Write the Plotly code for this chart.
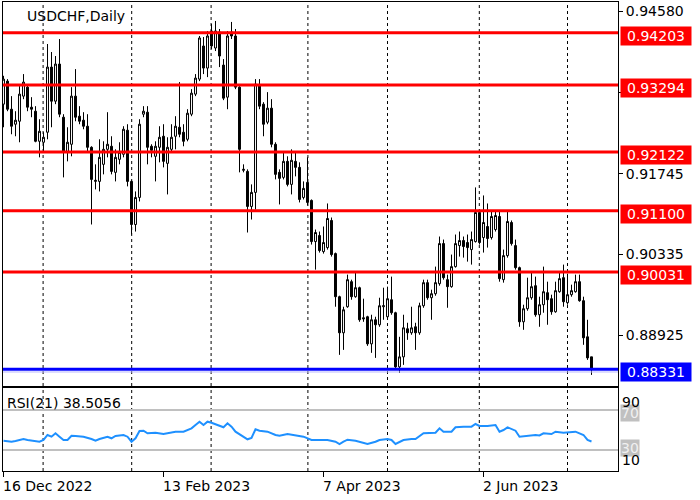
import plotly.graph_objects as go

# ---------------- data ----------------
bar_index = list(range(148))
date_ticks = [0, 40, 80, 120]
date_labels = ["16 Dec 2022", "13 Feb 2023", "7 Apr 2023", "2 Jun 2023"]
month_grid = [9.9, 32.05, 51.9, 76.1, 96, 118.95, 141]

opens = [0.92958, 0.93360, 0.92870, 0.92608, 0.92660, 0.93098, 0.93255, 0.92905, 0.92835, 0.92310,
         0.92293, 0.92468, 0.93605, 0.93010, 0.93658, 0.92730, 0.92118, 0.92258, 0.93098, 0.92748,
         0.92678, 0.92573, 0.92205, 0.91610, 0.91610, 0.91908, 0.92170, 0.92223, 0.91768, 0.91995,
         0.92083, 0.92503, 0.91610, 0.90858, 0.91330, 0.92783, 0.92818, 0.92223, 0.92048, 0.92205,
         0.92398, 0.91925, 0.92170, 0.92398, 0.92555, 0.92468, 0.92345, 0.92783, 0.93133, 0.93395,
         0.93973, 0.93588, 0.94235, 0.93938, 0.94218, 0.93640, 0.93080, 0.94218, 0.94148, 0.93255,
         0.91803, 0.91785, 0.91173, 0.91418, 0.93290, 0.92958, 0.92643, 0.92888, 0.92258, 0.91768,
         0.91680, 0.91960, 0.91558, 0.91960, 0.91855, 0.91330, 0.91593, 0.91278, 0.90560, 0.90665,
         0.90385, 0.90455, 0.90928, 0.90350, 0.89598, 0.88968, 0.89423, 0.89860, 0.89598, 0.89755,
         0.89230, 0.89248, 0.88775, 0.89195, 0.89108, 0.89423, 0.89248, 0.89545, 0.89318, 0.88373,
         0.88548, 0.89038, 0.88968, 0.89073, 0.88968, 0.89440, 0.89843, 0.89580, 0.89650, 0.89825,
         0.90525, 0.89895, 0.89773, 0.90123, 0.90490, 0.90578, 0.90543, 0.90420, 0.90560, 0.91068,
         0.90630, 0.90823, 0.90630, 0.90770, 0.90998, 0.89895, 0.90315, 0.90893, 0.90490, 0.90105,
         0.89160, 0.89388, 0.89580, 0.89790, 0.89283, 0.89458, 0.89668, 0.89563, 0.89335, 0.89685,
         0.89930, 0.89493, 0.89633, 0.89685, 0.89860, 0.89528, 0.88898, 0.88548]

highs = [0.93453, 0.93395, 0.93098, 0.92835, 0.93273, 0.93483, 0.93308, 0.93080, 0.92923, 0.92695,
         0.92468, 0.94008, 0.93868, 0.93798, 0.94095, 0.92783, 0.92555, 0.93255, 0.93570, 0.92923,
         0.92818, 0.92783, 0.92223, 0.91908, 0.92345, 0.92310, 0.92818, 0.92398, 0.92170, 0.92293,
         0.92573, 0.92608, 0.91628, 0.91435, 0.92695, 0.92923, 0.92923, 0.92258, 0.92310, 0.92573,
         0.92608, 0.92380, 0.92608, 0.92748, 0.93343, 0.92608, 0.92870, 0.93220, 0.93483, 0.94148,
         0.94130, 0.94235, 0.94358, 0.94410, 0.94270, 0.93745, 0.94235, 0.94393, 0.94270, 0.93273,
         0.91908, 0.91820, 0.91558, 0.93395, 0.93395, 0.92993, 0.93168, 0.93045, 0.92293, 0.91820,
         0.92118, 0.92048, 0.92170, 0.92118, 0.91943, 0.91610, 0.92030, 0.91295, 0.90770, 0.90735,
         0.90823, 0.91225, 0.90980, 0.90368, 0.89615, 0.89423, 0.89983, 0.89895, 0.90018, 0.89773,
         0.89563, 0.89265, 0.89283, 0.89248, 0.89580, 0.89755, 0.89773, 0.89948, 0.89335, 0.88898,
         0.89283, 0.89143, 0.89423, 0.89143, 0.89493, 0.89895, 0.89895, 0.89720, 0.90123, 0.90648,
         0.90595, 0.89983, 0.90333, 0.90683, 0.90735, 0.90648, 0.90683, 0.90735, 0.91505, 0.91120,
         0.91365, 0.91225, 0.91085, 0.91085, 0.91085, 0.90420, 0.91085, 0.90928, 0.90595, 0.90123,
         0.89458, 0.89930, 0.90018, 0.89948, 0.89598, 0.90123, 0.89860, 0.89633, 0.89860, 0.90018,
         0.90158, 0.90000, 0.89808, 0.89983, 0.89983, 0.89598, 0.89195, 0.88548]

lows = [0.92555, 0.92835, 0.92433, 0.92398, 0.92293, 0.93045, 0.92835, 0.92730, 0.92293, 0.92030,
        0.92135, 0.92345, 0.92555, 0.92958, 0.92730, 0.91680, 0.91960, 0.92048, 0.92660, 0.92608,
        0.92520, 0.92135, 0.90858, 0.91470, 0.91435, 0.91733, 0.92030, 0.91733, 0.91610, 0.91908,
        0.92030, 0.91523, 0.90683, 0.90735, 0.91260, 0.92730, 0.91908, 0.92030, 0.91610, 0.91943,
        0.91855, 0.91383, 0.92135, 0.92170, 0.92380, 0.92223, 0.92310, 0.92748, 0.93098, 0.93360,
        0.93483, 0.93430, 0.93920, 0.93885, 0.93605, 0.93028, 0.92870, 0.94095, 0.93220, 0.91768,
        0.91768, 0.90718, 0.90945, 0.91120, 0.92870, 0.92398, 0.92608, 0.92205, 0.91645, 0.91208,
        0.91645, 0.91523, 0.91383, 0.91698, 0.91243, 0.91295, 0.91190, 0.90508, 0.90070, 0.90368,
        0.90350, 0.90420, 0.90298, 0.89423, 0.88583, 0.88670, 0.89405, 0.89545, 0.89580, 0.89160,
        0.89160, 0.88740, 0.88618, 0.88530, 0.89073, 0.89195, 0.89195, 0.89283, 0.88355, 0.88268,
        0.88408, 0.88845, 0.88933, 0.88670, 0.88933, 0.89405, 0.89545, 0.89195, 0.89615, 0.89790,
        0.89895, 0.89405, 0.89755, 0.90105, 0.90298, 0.90280, 0.90210, 0.90158, 0.90543, 0.90508,
        0.90368, 0.90455, 0.90595, 0.90735, 0.89860, 0.89843, 0.90280, 0.90490, 0.90070, 0.89073,
        0.89020, 0.89353, 0.89545, 0.89248, 0.89073, 0.89318, 0.89108, 0.89283, 0.89318, 0.89668,
        0.89423, 0.89458, 0.89598, 0.89668, 0.89510, 0.88758, 0.88495, 0.88233]

closes = [0.93395, 0.92870, 0.92573, 0.92678, 0.93133, 0.93343, 0.92905, 0.92870, 0.92310, 0.92485,
          0.92380, 0.93605, 0.93010, 0.93658, 0.92783, 0.92135, 0.92293, 0.93098, 0.92730, 0.92660,
          0.92573, 0.92205, 0.91645, 0.91628, 0.92030, 0.92170, 0.92258, 0.91785, 0.92030, 0.92118,
          0.92520, 0.91610, 0.90858, 0.91330, 0.92608, 0.92835, 0.92205, 0.92153, 0.92223, 0.92380,
          0.91960, 0.92205, 0.92380, 0.92573, 0.92433, 0.92310, 0.92800, 0.93150, 0.93413, 0.94113,
          0.93588, 0.94148, 0.93973, 0.94235, 0.93798, 0.93063, 0.94148, 0.94148, 0.93255, 0.92170,
          0.91820, 0.91173, 0.91418, 0.93308, 0.92923, 0.92608, 0.92888, 0.92258, 0.91733, 0.91663,
          0.91960, 0.91558, 0.91978, 0.91855, 0.91295, 0.91488, 0.91243, 0.90560, 0.90718, 0.90403,
          0.90543, 0.90963, 0.90333, 0.89598, 0.88968, 0.89370, 0.89895, 0.89598, 0.89755, 0.89195,
          0.89213, 0.88775, 0.89195, 0.89108, 0.89440, 0.89440, 0.89563, 0.89318, 0.88373, 0.88548,
          0.89055, 0.88968, 0.89055, 0.88968, 0.89440, 0.89843, 0.89580, 0.89650, 0.89843, 0.90525,
          0.89930, 0.89773, 0.90123, 0.90525, 0.90578, 0.90473, 0.90455, 0.90595, 0.91068, 0.90543,
          0.90893, 0.90613, 0.90998, 0.91015, 0.89913, 0.90315, 0.90910, 0.90525, 0.90105, 0.89160,
          0.89388, 0.89580, 0.89773, 0.89283, 0.89458, 0.89685, 0.89545, 0.89335, 0.89703, 0.89913,
          0.89510, 0.89633, 0.89703, 0.89860, 0.89528, 0.88880, 0.88530, 0.88331]

rsi_bar = [0, 2, 3, 5, 6, 8, 9, 10, 11, 12, 13, 14, 15, 16, 17, 18, 20, 22, 23, 24,
           26, 27, 28, 30, 31, 32, 33, 34, 35, 36, 38, 40, 42, 43, 45, 47, 48, 49, 50, 51,
           52, 53, 55, 56, 57, 58, 60, 61, 62, 63, 64, 66, 68, 69, 71, 73, 74, 75, 77, 78,
           80, 81, 83, 84, 85, 86, 88, 91, 93, 94, 96, 97, 98, 100, 102, 103, 105, 107, 108, 109,
           110, 112, 113, 115, 117, 118, 119, 121, 123, 124, 125, 126, 128, 129, 131, 133, 134, 135, 137, 138,
           140, 142, 143, 145, 146, 147]
rsi_vals = [39.3, 38.3, 39.0, 41.0, 40.0, 39.0, 38.3, 40.0, 45.0, 43.3, 46.7, 43.3, 40.0, 40.0, 44.3, 44.0, 43.3, 41.0, 39.3, 41.0,
            43.3, 41.7, 44.0, 45.0, 43.3, 38.3, 41.7, 49.0, 49.3, 46.7, 47.3, 46.0, 47.7, 48.3, 48.3, 51.7, 55.0, 58.3, 55.0, 58.3,
            57.3, 55.7, 52.7, 56.7, 53.3, 48.3, 43.3, 40.7, 42.0, 50.7, 49.3, 48.3, 45.0, 44.3, 46.0, 44.3, 44.0, 43.3, 40.0, 40.0,
            40.7, 40.0, 38.3, 36.0, 38.3, 40.3, 39.3, 36.0, 38.3, 40.0, 41.0, 40.0, 36.0, 40.0, 41.0, 41.0, 46.7, 47.3, 47.3, 51.7,
            48.3, 48.3, 52.7, 53.3, 53.3, 56.0, 54.0, 54.0, 55.0, 48.3, 50.0, 52.7, 49.3, 43.3, 44.0, 45.0, 44.5, 46.7, 46.0, 48.3,
            47.3, 48.3, 48.3, 45.0, 40.0, 38.5]

red_levels = [0.94203, 0.93294, 0.92122, 0.91100, 0.90031]
blue_level = 0.88331
bid_level = 0.88284
price_ticks = [0.94580, 0.93163, 0.91745, 0.90335, 0.88925]
price_tick_text = ["0.94580", "0.93163", "0.91745", "0.90335", "0.88925"]
rsi_levels = [70, 30]
rsi_scale_labels = [90, 10]
symbol_title = "USDCHF,Daily"
rsi_title = "RSI(21) 38.5056"

# ---------------- figure ----------------
FONT = "DejaVu Sans"
fig = go.Figure()

fig.add_trace(go.Candlestick(
    x=bar_index, open=opens, high=highs, low=lows, close=closes,
    xaxis="x", yaxis="y",
    increasing=dict(line=dict(color="black", width=1), fillcolor="white"),
    decreasing=dict(line=dict(color="black", width=1), fillcolor="black"),
    whiskerwidth=0, showlegend=False, hoverinfo="skip"))

fig.add_trace(go.Scatter(
    x=rsi_bar, y=rsi_vals, xaxis="x2", yaxis="y2", mode="lines",
    line=dict(color="#1e90ff", width=2), showlegend=False, hoverinfo="skip"))

shapes = []
for g in month_grid:
    for xr_, yr_ in (("x", "y domain"), ("x2", "y2 domain")):
        shapes.append(dict(type="line", xref=xr_, yref=yr_, x0=g, x1=g, y0=0, y1=1,
                           line=dict(color="black", width=1, dash="3px,3px"), layer="below"))
for lv in red_levels:
    shapes.append(dict(type="line", xref="x domain", yref="y", x0=0, x1=1, y0=lv, y1=lv,
                       line=dict(color="#ff0000", width=3)))
shapes.append(dict(type="line", xref="x domain", yref="y", x0=0, x1=1, y0=bid_level, y1=bid_level,
                   line=dict(color="#b8b8ff", width=1)))
shapes.append(dict(type="line", xref="x domain", yref="y", x0=0, x1=1, y0=blue_level, y1=blue_level,
                   line=dict(color="#0000ff", width=3)))
for lv in rsi_levels:
    shapes.append(dict(type="line", xref="x2 domain", yref="y2", x0=0, x1=1, y0=lv, y1=lv,
                       line=dict(color="#c0c0c0", width=2), layer="below"))

ann = []
for lv in red_levels:
    ann.append(dict(xref="paper", x=1, xanchor="left", xshift=2, yref="y", y=lv, yanchor="middle",
                    yshift=-3, text=f"{lv:.5f}", showarrow=False, bgcolor="#ff0000",
                    font=dict(family=FONT, size=14, color="white"), borderpad=1, width=68))
ann.append(dict(xref="paper", x=1, xanchor="left", xshift=2, yref="y", y=blue_level, yanchor="middle",
                yshift=-3, text=f"{blue_level:.5f}", showarrow=False, bgcolor="#0000ff",
                font=dict(family=FONT, size=14, color="white"), borderpad=1, width=68))
ann.append(dict(xref="paper", x=0, xanchor="left", xshift=22, yref="paper", y=1, yanchor="top",
                yshift=-4, text=symbol_title, showarrow=False,
                font=dict(family=FONT, size=14, color="black")))
ann.append(dict(xref="paper", x=0, xanchor="left", xshift=2, yref="y2 domain", y=1, yanchor="top",
                yshift=-5, text=rsi_title, showarrow=False,
                font=dict(family=FONT, size=14, color="black")))
for lv in rsi_levels:
    ann.append(dict(xref="paper", x=1, xanchor="left", xshift=2, yref="y2", y=lv, yanchor="middle",
                    yshift=(-3.5 if lv > 50 else 1.5), text=str(lv), showarrow=False,
                    bgcolor="#c0c0c0", borderpad=0,
                    font=dict(family=FONT, size=14, color="#f0f0f0")))
ann.append(dict(xref="paper", x=1, xanchor="left", xshift=2, yref="y2", y=rsi_scale_labels[0],
                yanchor="top", yshift=-2, text=str(rsi_scale_labels[0]), showarrow=False,
                font=dict(family=FONT, size=14, color="black")))
ann.append(dict(xref="paper", x=1, xanchor="left", xshift=2, yref="y2", y=rsi_scale_labels[1],
                yanchor="bottom", yshift=0, text=str(rsi_scale_labels[1]), showarrow=False,
                font=dict(family=FONT, size=14, color="black")))
for t, lab in zip(date_ticks, date_labels):
    ann.append(dict(xref="x2", x=t, xanchor="left", xshift=-3, yref="paper", y=0, yanchor="top",
                    yshift=-5, text=lab, showarrow=False,
                    font=dict(family=FONT, size=14, color="black")))

xr = [-0.125, 153.625]
fig.update_layout(
    width=700, height=500, template="none",
    paper_bgcolor="white", plot_bgcolor="white",
    margin=dict(l=3, r=82, t=2, b=29),
    showlegend=False,
    xaxis=dict(domain=[0, 1], range=xr, anchor="y", showgrid=False, zeroline=False,
               showticklabels=False, ticks="", showline=True, mirror=True,
               linecolor="black", linewidth=1, rangeslider=dict(visible=False)),
    xaxis2=dict(domain=[0, 1], range=xr, anchor="y2", matches="x", showgrid=False, zeroline=False,
                showticklabels=False, ticks="outside", ticklen=5, tickcolor="black",
                tickvals=date_ticks, showline=True, mirror=True, linecolor="black", linewidth=1),
    yaxis=dict(domain=[0.1812, 1], range=[0.88039, 0.94741], side="right", anchor="x",
               showgrid=False, zeroline=False, tickvals=price_ticks, ticktext=price_tick_text,
               ticks="outside", ticklen=4, tickcolor="black",
               tickfont=dict(family=FONT, size=14, color="black"),
               showline=True, mirror=True, linecolor="black", linewidth=1),
    yaxis2=dict(domain=[0, 0.177], range=[9, 92], side="right", anchor="x2",
                showgrid=False, zeroline=False, showticklabels=False, ticks="",
                showline=True, mirror=True, linecolor="black", linewidth=1),
    shapes=shapes, annotations=ann,
)

fig.write_html("out.html", config={"displayModeBar": False},
               post_script="document.body.style.margin='0';")
